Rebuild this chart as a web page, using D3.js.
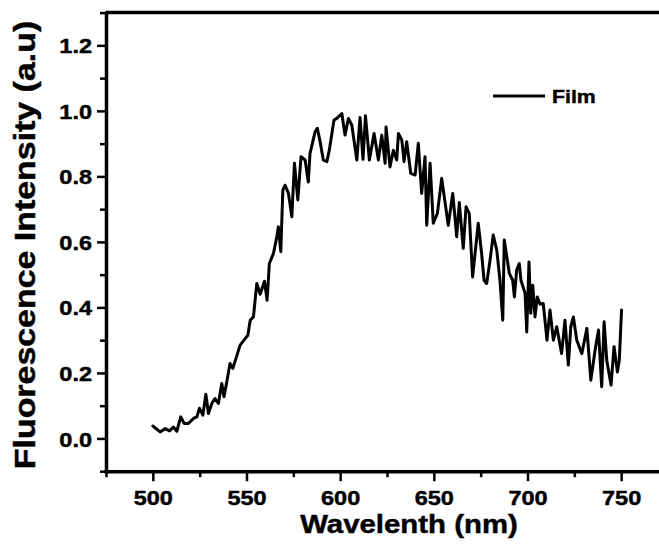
<!DOCTYPE html>
<html>
<head>
<meta charset="utf-8">
<script src="https://cdn.jsdelivr.net/npm/d3@7"></script>
<style>
  html, body { margin: 0; padding: 0; background: #fff; }
  svg { display: block; }
  text { font-family: "Liberation Sans", Arial, sans-serif; font-weight: bold; fill: #000; stroke: #000; stroke-width: 0.45px; }
</style>
</head>
<body>
<svg id="chart" width="659" height="547"></svg>
<script>
// ---- data ----
const wavelength = [
  500.0, 503.9, 506.6, 508.9, 511.0, 512.8, 514.9, 516.7, 519.0, 521.7,
  523.5, 524.9, 526.7, 528.3, 529.7, 531.5, 533.2, 535.0, 536.8, 538.0,
  539.8, 541.2, 542.7, 546.6, 548.7, 550.7, 552.0, 553.7, 555.5, 557.3,
  559.6, 561.0, 562.2, 564.4, 566.2, 567.0, 568.3, 569.4, 570.6, 572.4,
  574.2, 575.6, 577.4, 579.1, 581.3, 583.0, 583.9, 586.6, 587.8, 589.3,
  591.0, 592.9, 594.2, 596.7, 598.2, 600.9, 602.6, 604.4, 606.2, 608.9,
  610.6, 612.2, 613.5, 615.6, 618.1, 620.4, 622.2, 624.0, 624.5, 626.6,
  628.4, 630.2, 631.1, 632.9, 634.1, 635.5, 637.7, 640.0, 641.7, 643.5,
  645.3, 646.2, 648.0, 649.7, 651.9, 654.2, 657.7, 660.1, 662.2, 663.6,
  665.7, 667.2, 668.9, 670.7, 673.7, 675.5, 676.8, 678.2, 680.0, 681.7,
  683.6, 685.3, 686.8, 687.6, 690.3, 692.1, 693.0, 694.2, 695.6, 696.5,
  698.7, 699.6, 700.8, 701.7, 702.8, 704.0, 705.2, 706.7, 708.4, 710.4,
  712.0, 713.8, 715.6, 718.2, 720.0, 721.8, 723.1, 724.5, 726.3, 729.0,
  731.7, 733.8, 736.1, 737.9, 739.6, 740.9, 742.3, 744.6, 746.2, 748.0,
  749.0, 750.2
];
const intensity = [
  0.038, 0.020, 0.030, 0.023, 0.035, 0.022, 0.066, 0.046, 0.046, 0.061,
  0.066, 0.092, 0.071, 0.135, 0.076, 0.107, 0.122, 0.107, 0.168, 0.127,
  0.183, 0.229, 0.214, 0.285, 0.300, 0.315, 0.361, 0.371, 0.473, 0.440,
  0.480, 0.422, 0.534, 0.565, 0.616, 0.646, 0.570, 0.758, 0.773, 0.748,
  0.677, 0.840, 0.728, 0.860, 0.850, 0.783, 0.870, 0.936, 0.947, 0.906,
  0.850, 0.845, 0.880, 0.972, 0.977, 0.992, 0.926, 0.977, 0.957, 0.850,
  0.980, 0.852, 0.985, 0.850, 0.931, 0.850, 0.926, 0.840, 0.951, 0.829,
  0.880, 0.850, 0.931, 0.911, 0.845, 0.906, 0.809, 0.804, 0.901, 0.748,
  0.860, 0.651, 0.840, 0.657, 0.687, 0.794, 0.651, 0.748, 0.616, 0.720,
  0.580, 0.707, 0.687, 0.493, 0.657, 0.565, 0.483, 0.473, 0.544, 0.621,
  0.575, 0.483, 0.361, 0.606, 0.504, 0.483, 0.432, 0.514, 0.534, 0.483,
  0.443, 0.325, 0.539, 0.382, 0.468, 0.371, 0.432, 0.410, 0.412, 0.300,
  0.392, 0.300, 0.341, 0.259, 0.361, 0.224, 0.341, 0.371, 0.300, 0.259,
  0.336, 0.178, 0.270, 0.331, 0.158, 0.356, 0.239, 0.163, 0.280, 0.203,
  0.239, 0.392
];
const xTickValues = [500, 550, 600, 650, 700, 750];
const xMinorValues = [475, 525, 575, 625, 675, 725, 775];
const yTickValues = [0.0, 0.2, 0.4, 0.6, 0.8, 1.0, 1.2];
const yMinorValues = [-0.1, 0.1, 0.3, 0.5, 0.7, 0.9, 1.1, 1.3];
const seriesName = "Film";
const xTitle = "Wavelenth (nm)";
const yTitle = "Fluorescence Intensity (a.u)";

// ---- drawing ----
const svg = d3.select("#chart");
const x = d3.scaleLinear().domain([475, 775]).range([106, 668]);
const y = d3.scaleLinear().domain([-0.1, 1.3]).range([471.2, 12.6]);
const STRETCH = 1.12;

function stretch(sel, k) {
  sel.each(function () {
    const len = this.getComputedTextLength();
    d3.select(this).attr("textLength", len * k).attr("lengthAdjust", "spacingAndGlyphs");
  });
}

// frame (top and right)
svg.append("line").attr("x1", x(475)).attr("x2", x(775)).attr("y1", y(1.3)).attr("y2", y(1.3))
  .attr("stroke", "#000").attr("stroke-width", 3.5);
svg.append("line").attr("x1", x(775)).attr("x2", x(775)).attr("y1", y(1.3)).attr("y2", y(-0.1))
  .attr("stroke", "#000").attr("stroke-width", 3.5);

// minor ticks
svg.append("g").attr("transform", `translate(0,${y(-0.1)})`)
  .call(d3.axisBottom(x).tickValues(xMinorValues).tickSize(6).tickFormat(""))
  .call(g => g.select(".domain").remove())
  .call(g => g.selectAll("line").attr("stroke", "#000").attr("stroke-width", 2.5));
svg.append("g").attr("transform", `translate(${x(475)},0)`)
  .call(d3.axisLeft(y).tickValues(yMinorValues).tickSize(6).tickFormat(""))
  .call(g => g.select(".domain").remove())
  .call(g => g.selectAll("line").attr("stroke", "#000").attr("stroke-width", 2.5));

// major axes
const xAxis = svg.append("g").attr("transform", `translate(0,${y(-0.1)})`)
  .call(d3.axisBottom(x).tickValues(xTickValues).tickSize(10).tickPadding(9).tickFormat(d3.format("d")).tickSizeOuter(0));
xAxis.select(".domain").attr("stroke", "#000").attr("stroke-width", 3.5);
xAxis.selectAll("line").attr("stroke", "#000").attr("stroke-width", 2.5);
xAxis.selectAll("text").attr("font-size", 21).attr("font-family", null).attr("dy", "0.72em")
  .call(stretch, STRETCH);

const yAxis = svg.append("g").attr("transform", `translate(${x(475)},0)`)
  .call(d3.axisLeft(y).tickValues(yTickValues).tickSize(9).tickPadding(5).tickFormat(d3.format(".1f")).tickSizeOuter(0));
yAxis.select(".domain").attr("stroke", "#000").attr("stroke-width", 3.5);
yAxis.selectAll("line").attr("stroke", "#000").attr("stroke-width", 2.5);
yAxis.selectAll("text").attr("font-size", 21).attr("font-family", null).attr("dy", "0.36em")
  .call(stretch, STRETCH);

svg.selectAll(".domain").attr("stroke-linecap", "square");

// series line
const data = wavelength.map((w, i) => ({ w, v: intensity[i] }));
svg.append("path").datum(data)
  .attr("fill", "none").attr("stroke", "#000").attr("stroke-width", 3)
  .attr("stroke-linejoin", "round").attr("stroke-linecap", "round")
  .attr("d", d3.line().x(d => x(d.w)).y(d => y(d.v)));

// legend
svg.append("line").attr("x1", 493).attr("x2", 545).attr("y1", 96).attr("y2", 96)
  .attr("stroke", "#000").attr("stroke-width", 3);
svg.append("text").attr("x", 552).attr("y", 103).attr("font-size", 19).text(seriesName)
  .call(stretch, STRETCH);

// axis titles
svg.append("text").attr("x", 409).attr("y", 533).attr("text-anchor", "middle")
  .attr("font-size", 26).attr("stroke-width", 0.7).text(xTitle).call(stretch, 1.13);
svg.append("text").attr("transform", "translate(35,245) rotate(-90)").attr("text-anchor", "middle")
  .attr("font-size", 30).attr("stroke-width", 0.8).text(yTitle).call(stretch, 1.13);
</script>
</body>
</html>
